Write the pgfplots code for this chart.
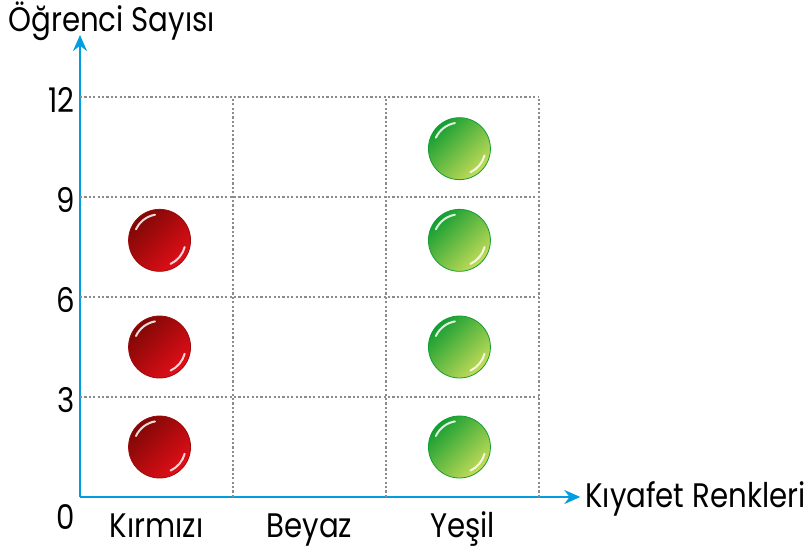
\documentclass[border=0pt]{standalone}
\usepackage{pgfplots}
\pgfplotsset{compat=1.18}
\usetikzlibrary{arrows.meta}
\usepackage{fontspec}
\setmainfont{Poppins}[FakeStretch=0.86]
\definecolor{axisblue}{RGB}{0,158,224}
\definecolor{rdark}{RGB}{125,8,5}
\definecolor{rlight}{RGB}{228,14,24}
\definecolor{gdark}{RGB}{20,158,50}
\definecolor{glight}{RGB}{198,220,88}
\definecolor{gridgray}{RGB}{140,140,140}
\tikzset{
  hl/.style={path picture={
    \draw[white, opacity=0.85, line width=1pt, line cap=round] (path picture bounding box.center) ++(100:13pt) arc (100:155:13pt);
    \draw[white, opacity=0.85, line width=1pt, line cap=round] (path picture bounding box.center) ++(-15:13pt) arc (-15:-65:13pt);
  }},
  gridl/.style={gridgray, line width=0.7pt, dash pattern=on 1.1pt off 1.1pt},
}
\begin{document}
\begin{tikzpicture}
\useasboundingbox (-40pt,-28pt) rectangle (364pt,248.5pt);
\begin{axis}[
  at={(0,0)}, anchor=origin,
  x=76.5pt, y=16.6667pt,
  xmin=0, xmax=3.27, ymin=0, ymax=13.86,
  axis lines=left,
  axis line style={axisblue, line width=1pt, -{Stealth[length=8pt,width=7pt]}},
  clip=false,
  xtick={0.5,1.5,2.5}, xticklabels={Kırmızı,Beyaz,Yeşil},
  ytick={3,6,9,12},
  extra y ticks={0},
  extra y tick style={yticklabel style={yshift=-8.5pt}},
  major tick length=0pt,
  tick style={draw=none},
  /pgf/number format/assume math mode=true,
  every tick label/.append style={font=\fontsize{17}{20}\selectfont},
  xticklabel style={anchor=base, yshift=-20pt, inner sep=0pt},
  yticklabel style={anchor=east, inner sep=0pt, xshift=-2.5pt, yshift=-1.5pt},
  xlabel={Kıyafet Renkleri},
  ylabel={Öğrenci Sayısı},
  every axis x label/.style={at={(axis cs:3.30,-0.3)}, anchor=base west, inner sep=0pt, font=\fontsize{17}{20}\selectfont},
  every axis y label/.style={at={(axis cs:-0.47,13.95)}, anchor=base west, inner sep=0pt, font=\fontsize{17}{20}\selectfont},
]
% grid
\draw[gridl] (axis cs:1,0) -- (axis cs:1,12);
\draw[gridl] (axis cs:2,0) -- (axis cs:2,12);
\draw[gridl] (axis cs:3,0) -- (axis cs:3,12);
\draw[gridl] (axis cs:0,3) -- (axis cs:3,3);
\draw[gridl] (axis cs:0,6) -- (axis cs:3,6);
\draw[gridl] (axis cs:0,9) -- (axis cs:3,9);
\draw[gridl] (axis cs:0,12) -- (axis cs:3,12);
% Kırmızı
\addplot[only marks, mark=none, nodes near coords={},
  every node near coord/.style={circle, inner sep=0pt, minimum size=31pt, draw=rdark!70!rlight, line width=0.4pt,
    top color=rdark, bottom color=rlight, shading angle=45, hl, anchor=center}]
  coordinates {(0.52,1.5) (0.52,4.5) (0.52,7.7)};
% Yeşil
\addplot[only marks, mark=none, nodes near coords={},
  every node near coord/.style={circle, inner sep=0pt, minimum size=31pt, draw=gdark, line width=0.4pt,
    top color=gdark, bottom color=glight, shading angle=45, hl, anchor=center}]
  coordinates {(2.48,1.5) (2.48,4.5) (2.48,7.7) (2.48,10.45)};
\end{axis}
\end{tikzpicture}
\end{document}
